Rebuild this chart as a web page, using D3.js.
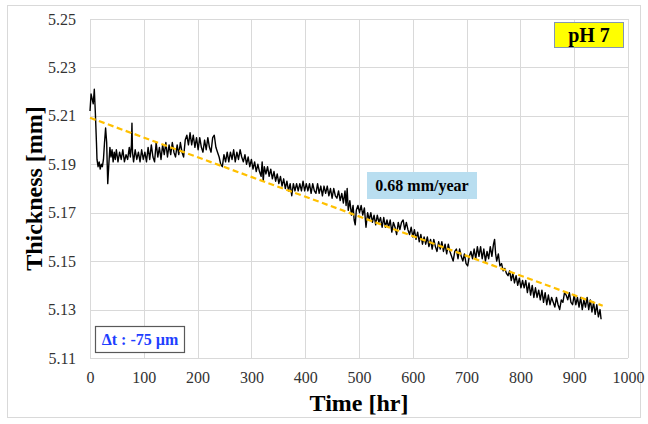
<!DOCTYPE html>
<html>
<head>
<meta charset="utf-8">
<script src="https://cdn.jsdelivr.net/npm/d3@7"></script>
<style>
  body { margin: 0; background: #fff; }
  svg { display: block; }
  svg text { font-family: "Liberation Serif", "Times New Roman", serif; }
</style>
</head>
<body>
<div id="chart"></div>
<script>
// thickness readings (hr, mm)
var hours = [0, 2, 4, 6, 8, 10, 12, 13, 15, 17, 19, 21, 23, 25, 27, 29, 31, 32, 33, 35, 37, 39,
  41, 43, 45, 47, 49, 52, 55, 58, 61, 64, 67, 70, 73, 75, 77, 78, 79, 81, 84, 87, 90, 93, 96, 99,
  102, 105, 108, 111, 114, 117, 120, 123, 126, 129, 132, 135, 138, 141, 144, 147, 150, 153, 156, 159,
  162, 165, 168, 171, 174, 177, 180, 183, 186, 189, 192, 195, 198, 201, 204, 207, 210, 213, 216, 219,
  222, 225, 228, 231, 234, 237, 240, 243, 246, 249, 252, 255, 258, 261, 264, 267, 270, 273, 276, 279,
  282, 285, 288, 291, 294, 297, 300, 303, 306, 309, 312, 315, 318, 320, 322, 324, 327, 330, 333, 336,
  339, 342, 345, 348, 351, 354, 357, 360, 363, 366, 369, 372, 375, 378, 381, 384, 387, 390, 393, 396,
  399, 402, 405, 408, 411, 414, 417, 420, 423, 426, 429, 432, 435, 438, 441, 444, 447, 450, 453, 456,
  459, 462, 465, 468, 471, 474, 476, 478, 480, 483, 486, 489, 491, 493, 495, 498, 501, 504, 507, 510,
  513, 516, 519, 522, 525, 528, 531, 534, 537, 540, 543, 546, 549, 552, 555, 558, 561, 564, 567, 570,
  573, 576, 579, 582, 585, 588, 591, 594, 597, 600, 603, 606, 609, 612, 615, 618, 621, 624, 627, 630,
  633, 636, 639, 642, 645, 648, 651, 654, 657, 660, 663, 666, 669, 672, 675, 678, 681, 684, 687, 690,
  693, 696, 699, 702, 705, 708, 711, 714, 717, 720, 723, 726, 729, 732, 735, 738, 741, 744, 747, 750,
  752, 754, 756, 759, 762, 765, 768, 771, 774, 777, 780, 783, 786, 789, 792, 795, 798, 801, 804, 807,
  810, 813, 816, 819, 822, 825, 828, 831, 834, 837, 840, 843, 846, 849, 852, 855, 858, 861, 864, 867,
  870, 873, 876, 879, 882, 885, 888, 891, 894, 897, 900, 903, 906, 909, 912, 915, 918, 921, 924, 927,
  930, 933, 936, 939, 942, 945, 948, 950];

var thickness = [5.212, 5.219, 5.217, 5.215, 5.221, 5.211, 5.199, 5.192, 5.189, 5.191, 5.188, 5.190,
  5.189, 5.192, 5.199, 5.205, 5.199, 5.190, 5.182, 5.190, 5.197, 5.193,
  5.196, 5.191, 5.195, 5.192, 5.196, 5.191, 5.195, 5.192, 5.196, 5.191, 5.194, 5.192, 5.197, 5.193,
  5.198, 5.207, 5.195, 5.191, 5.196, 5.192, 5.195, 5.191, 5.196, 5.192,
  5.195, 5.191, 5.197, 5.192, 5.198, 5.193, 5.191, 5.199, 5.193, 5.197, 5.192, 5.198, 5.194, 5.199,
  5.193, 5.198, 5.194, 5.199, 5.195, 5.193,
  5.198, 5.194, 5.199, 5.195, 5.193, 5.200, 5.202, 5.198, 5.203, 5.198, 5.202, 5.197, 5.201, 5.196,
  5.201, 5.197, 5.195, 5.200, 5.196, 5.201,
  5.197, 5.195, 5.201, 5.202, 5.197, 5.195, 5.193, 5.190, 5.189, 5.194, 5.191, 5.195, 5.191, 5.195,
  5.192, 5.196, 5.191, 5.195, 5.192, 5.196,
  5.193, 5.191, 5.194, 5.190, 5.193, 5.189, 5.192, 5.188, 5.191, 5.187, 5.190, 5.187, 5.185, 5.191,
  5.183, 5.189, 5.186, 5.189, 5.185, 5.188,
  5.184, 5.187, 5.183, 5.186, 5.182, 5.185, 5.181, 5.184, 5.180, 5.183, 5.179, 5.182, 5.177, 5.182,
  5.179, 5.182, 5.179, 5.182, 5.179, 5.183,
  5.179, 5.182, 5.179, 5.182, 5.178, 5.182, 5.179, 5.178, 5.182, 5.178, 5.181, 5.177, 5.181, 5.178,
  5.181, 5.177, 5.180, 5.176, 5.180, 5.177,
  5.176, 5.179, 5.175, 5.178, 5.174, 5.179, 5.173, 5.180, 5.171, 5.175, 5.169, 5.173, 5.167, 5.165,
  5.171, 5.173, 5.170, 5.173, 5.169, 5.172,
  5.164, 5.170, 5.167, 5.170, 5.166, 5.169, 5.165, 5.169, 5.166, 5.168, 5.164, 5.168, 5.164, 5.167,
  5.164, 5.167, 5.162, 5.166, 5.164, 5.161,
  5.166, 5.163, 5.166, 5.167, 5.163, 5.166, 5.163, 5.161, 5.164, 5.160, 5.163, 5.159, 5.162, 5.158,
  5.161, 5.157, 5.160, 5.157, 5.160, 5.156,
  5.159, 5.155, 5.159, 5.156, 5.154, 5.158, 5.155, 5.158, 5.154, 5.157, 5.153, 5.157, 5.154, 5.152,
  5.150, 5.154, 5.155, 5.151, 5.155, 5.152,
  5.150, 5.153, 5.149, 5.148, 5.152, 5.154, 5.151, 5.155, 5.151, 5.156, 5.152, 5.156, 5.151, 5.155,
  5.150, 5.154, 5.151, 5.156, 5.152, 5.157,
  5.159, 5.153, 5.150, 5.153, 5.148, 5.149, 5.146, 5.147, 5.145, 5.144, 5.146, 5.142, 5.145, 5.141,
  5.144, 5.140, 5.143, 5.139, 5.142, 5.139,
  5.142, 5.137, 5.141, 5.136, 5.140, 5.135, 5.139, 5.135, 5.138, 5.134, 5.138, 5.133, 5.137, 5.132,
  5.136, 5.132, 5.135, 5.133, 5.131, 5.135,
  5.132, 5.130, 5.134, 5.133, 5.137, 5.136, 5.134, 5.137, 5.133, 5.132, 5.136, 5.132, 5.135, 5.131,
  5.135, 5.130, 5.134, 5.131, 5.135, 5.130,
  5.134, 5.129, 5.133, 5.128, 5.132, 5.127, 5.130, 5.126];

// linear fit (dashed)
var trendHours = [0, 953];
var trendThickness = [5.2092, 5.1316];

var xTicks = [0, 100, 200, 300, 400, 500, 600, 700, 800, 900, 1000];
var yTicks = [5.11, 5.13, 5.15, 5.17, 5.19, 5.21, 5.23, 5.25];

function thicknessChart() {
    var W = 648, H = 424;
    var margin = {left: 90, top: 19, right: 20, bottom: 66};
    var width = W - margin.left - margin.right;
    var height = H - margin.top - margin.bottom;

    var svg = d3.select('#chart')
      .append('svg')
      .attr('width', W)
      .attr('height', H);

    // outer chart frame
    svg.append('rect')
      .attr('x', 7.5).attr('y', 5.5)
      .attr('width', 633).attr('height', 412)
      .attr('fill', '#fff')
      .attr('stroke', '#d9d9d9');

    var g = svg.append('g')
      .attr('transform', 'translate(' + margin.left + ',' + margin.top + ')');

    var x = d3.scaleLinear().domain([0, 1000]).range([0, width]);
    var y = d3.scaleLinear().domain([5.11, 5.25]).range([height, 0]);

    // grid
    g.append('g')
      .selectAll('line')
      .data(yTicks)
      .enter()
      .append('line')
      .attr('x1', 0).attr('x2', width)
      .attr('y1', function(d) { return Math.round(y(d)) + 0.5; })
      .attr('y2', function(d) { return Math.round(y(d)) + 0.5; })
      .attr('stroke', '#d9d9d9').attr('stroke-width', 1);

    g.append('g')
      .selectAll('line')
      .data(xTicks)
      .enter()
      .append('line')
      .attr('y1', 0).attr('y2', height)
      .attr('x1', function(d) { return Math.round(x(d)) + 0.5; })
      .attr('x2', function(d) { return Math.round(x(d)) + 0.5; })
      .attr('stroke', '#d9d9d9').attr('stroke-width', 1);

    // axes (labels only)
    var xAxis = g.append('g')
      .attr('transform', 'translate(0,' + height + ')')
      .call(d3.axisBottom(x).tickValues(xTicks).tickSize(0).tickPadding(14).tickFormat(d3.format('d')));
    var yAxis = g.append('g')
      .call(d3.axisLeft(y).tickValues(yTicks).tickSize(0).tickPadding(14).tickFormat(d3.format('.2f')));

    [xAxis, yAxis].forEach(function(a) {
      a.attr('font-family', null).attr('font-size', null);
      a.select('.domain').remove();
      a.selectAll('text')
        .style('font-family', '"Liberation Serif", "Times New Roman", serif')
        .style('font-size', '16px')
        .attr('fill', '#333');
    });

    // measured thickness
    var line = d3.line()
      .x(function(d, i) { return x(hours[i]); })
      .y(function(d) { return y(d); });

    g.append('path')
      .datum(thickness)
      .attr('d', line)
      .attr('fill', 'none')
      .attr('stroke', '#000')
      .attr('stroke-width', 1.4)
      .attr('stroke-linejoin', 'round');

    // trend line
    g.append('path')
      .datum(trendThickness)
      .attr('d', d3.line()
        .x(function(d, i) { return x(trendHours[i]); })
        .y(function(d) { return y(d); }))
      .attr('fill', 'none')
      .attr('stroke', '#ffc000')
      .attr('stroke-width', 2.2)
      .attr('stroke-dasharray', '6,3.5');

    // axis titles
    svg.append('text')
      .attr('x', margin.left + width / 2)
      .attr('y', 411)
      .attr('text-anchor', 'middle')
      .attr('font-weight', 'bold')
      .attr('font-size', 24)
      .attr('fill', '#000')
      .text('Time [hr]');

    svg.append('text')
      .attr('transform', 'translate(42,' + (margin.top + height / 2) + ') rotate(-90)')
      .attr('text-anchor', 'middle')
      .attr('font-weight', 'bold')
      .attr('font-size', 24)
      .attr('fill', '#000')
      .text('Thickness [mm]');

    // annotations
    svg.append('rect')
      .attr('x', 554.5).attr('y', 22.5)
      .attr('width', 69).attr('height', 25)
      .attr('fill', '#ffff00')
      .attr('stroke', '#8497b0');
    svg.append('text')
      .attr('x', 589).attr('y', 42)
      .attr('text-anchor', 'middle')
      .attr('font-weight', 'bold')
      .attr('font-size', 20)
      .attr('fill', '#000')
      .text('pH 7');

    svg.append('rect')
      .attr('x', 367).attr('y', 172)
      .attr('width', 110).attr('height', 27)
      .attr('fill', '#b9def0');
    svg.append('text')
      .attr('x', 422).attr('y', 191)
      .attr('text-anchor', 'middle')
      .attr('font-weight', 'bold')
      .attr('font-size', 16)
      .attr('fill', '#000')
      .text('0.68 mm/year');

    svg.append('rect')
      .attr('x', 95.5).attr('y', 326.5)
      .attr('width', 89).attr('height', 26)
      .attr('fill', '#fff')
      .attr('stroke', '#595959')
      .attr('stroke-width', 1.2);
    svg.append('text')
      .attr('x', 140).attr('y', 345)
      .attr('text-anchor', 'middle')
      .attr('font-weight', 'bold')
      .attr('font-size', 16)
      .attr('fill', '#1f3fff')
      .text('\u0394t : -75 \u00b5m');
}

thicknessChart();
</script>
</body>
</html>
